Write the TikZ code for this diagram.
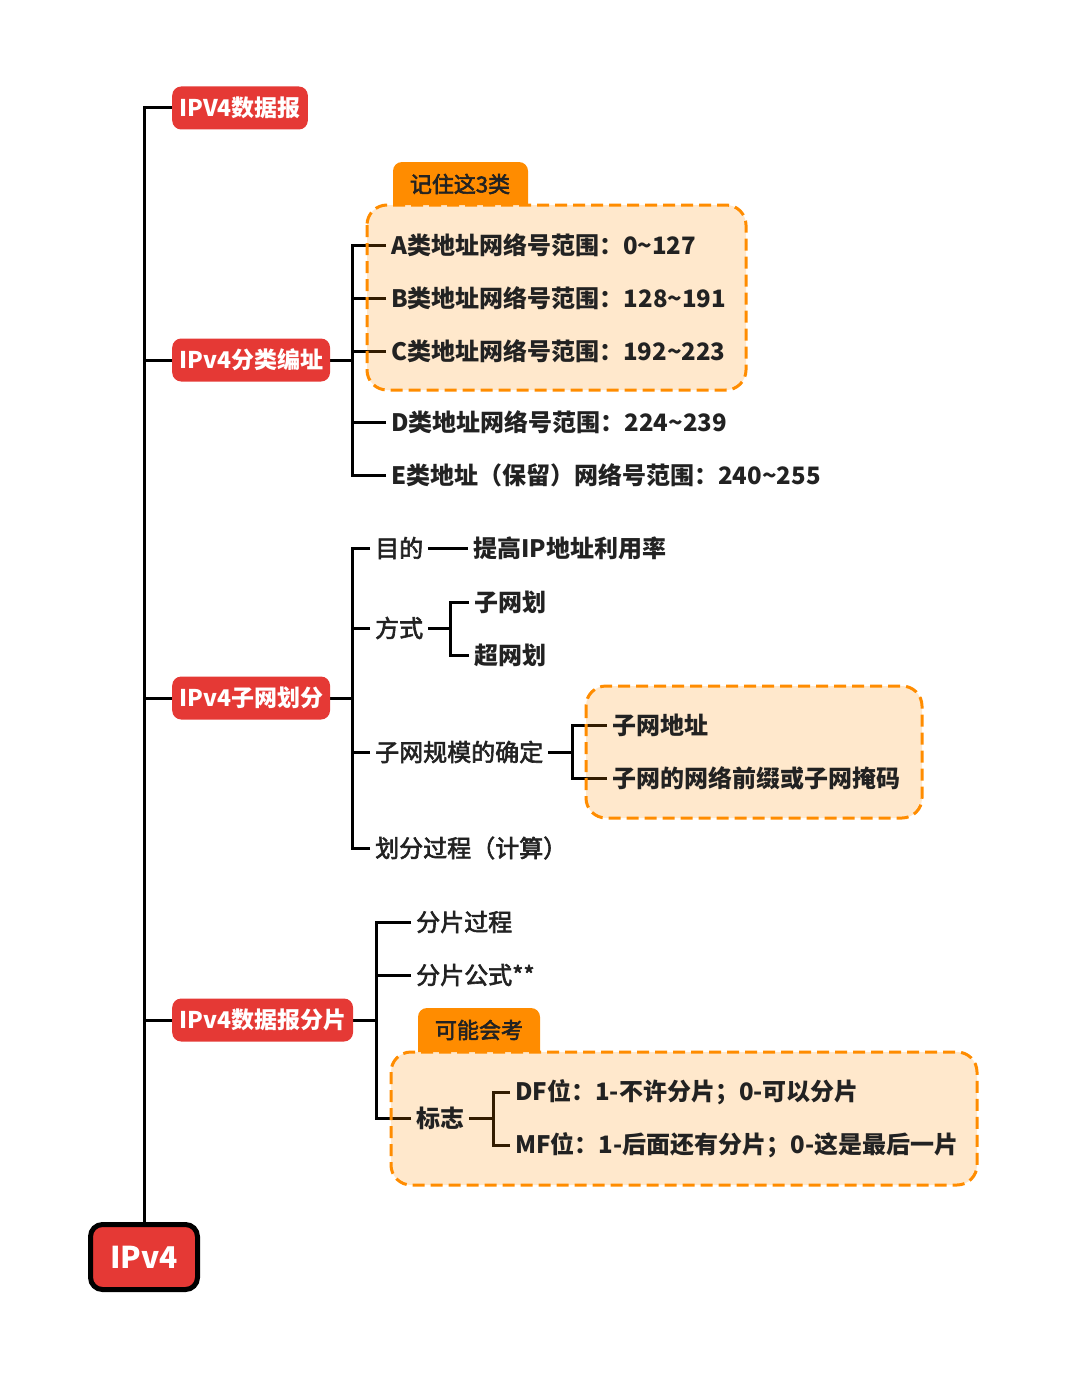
\documentclass[tikz,border=0pt]{standalone}
\usepackage{fontspec}
\setmainfont{Noto Sans CJK SC}
\newfontfamily\itemfont[FakeBold=2.5]{Noto Sans CJK SC}
\pgfdeclarelayer{lines}
\pgfdeclarelayer{boxes}
\pgfsetlayers{lines,boxes,main}
\definecolor{mapred}{HTML}{E53935}
\definecolor{maporange}{HTML}{FF8C00}
\definecolor{mapink}{HTML}{222222}

\tikzset{
  root/.style={rectangle, rounded corners=12pt, draw=black, line width=5pt, fill=mapred, text=white,
    font=\fontsize{30}{34}\selectfont\bfseries, minimum width=107pt, minimum height=65pt},
  topic/.style={rectangle, rounded corners=9pt, fill=mapred, text=white, anchor=west,
    font=\fontsize{23}{27}\selectfont\bfseries, minimum height=43pt, inner xsep=7pt},
  item/.style={anchor=west, inner xsep=5pt, inner ysep=3pt, text=mapink, font=\fontsize{24}{28}\itemfont},
  keyitem/.style={item, font=\fontsize{24}{28}\selectfont\bfseries},
  tabtext/.style={text=mapink, font=\fontsize{22}{26}\itemfont},
  link/.style={line width=3pt, draw=black},
  hintbox/.style={draw=maporange, line width=3pt, dash pattern=on 12pt off 6pt,
    fill=maporange, fill opacity=0.2, rounded corners=20pt},
}

\begin{document}
\begin{tikzpicture}[x=1pt,y=-1pt]
		\useasboundingbox (0,0) rectangle (1080,1378);

		% Root and topics
		\node[root] (ipv4) at (144,1257) {IPv4};
		\node[topic] (gram) at (172,108) {IPV4数据报};
		\node[topic] (classes) at (172,360) {IPv4分类编址};
		\node[topic] (subnets) at (172,698) {IPv4子网划分};
		\node[topic] (frags) at (172,1020) {IPv4数据报分片};

		% Classes
		\node[keyitem] (classA) at (386,245) {A类地址网络号范围：0\textasciitilde127};
		\node[keyitem] (classB) at (386,298) {B类地址网络号范围：128\textasciitilde191};
		\node[keyitem] (classC) at (386,351) {C类地址网络号范围：192\textasciitilde223};
		\node[keyitem] (classD) at (386,422) {D类地址网络号范围：224\textasciitilde239};
		\node[keyitem] (classE) at (386,475) {E类地址（保留）网络号范围：240\textasciitilde255};
		\node[tabtext] (tabA) at (460,184) {记住这3类};

		% Subnets
		\node[item] (aim) at (370,548) {目的};
		\node[keyitem] (aimtext) at (468,548) {提高IP地址利用率};
		\node[item] (way) at (370,628) {方式};
		\node[keyitem] (subdiv) at (469,602) {子网划};
		\node[keyitem] (superdiv) at (469,655) {超网划};
		\node[item] (scale) at (370,752) {子网规模的确定};
		\node[keyitem] (subaddr) at (607,725) {子网地址};
		\node[keyitem] (submask) at (607,778) {子网的网络前缀或子网掩码};
		\node[item] (calc) at (370,848) {划分过程（计算）};

		% Fragments
		\node[item] (fragproc) at (411,922) {分片过程};
		\node[item] (fragform) at (411,975) {分片公式**};
		\node[keyitem] (flags) at (411,1118) {标志};
		\node[keyitem] (flagDF) at (510,1092) {DF位：1-不许分片；0-可以分片};
		\node[keyitem] (flagMF) at (510,1145) {MF位：1-后面还有分片；0-这是最后一片};
		\node[tabtext] (tabB) at (479,1030) {可能会考};

		% Forks
		\coordinate (forkB) at (352,360);
		\coordinate (forkC) at (352,698);
		\coordinate (forkWay) at (450,628);
		\coordinate (forkScale) at (572,752);
		\coordinate (forkD) at (376,1020);
		\coordinate (forkFlags) at (493,1118);

		% Connectors
		\begin{pgfonlayer}{lines}
		\foreach \t in {gram,classes,subnets,frags}
			\draw[link] (\t.west) -| (ipv4.north);
		\draw[link] (classes.east) -- (forkB);
		\foreach \n in {classA,classB,classC,classD,classE}
			\draw[link] (\n.west) -| (forkB);
		\draw[link] (subnets.east) -- (forkC);
		\foreach \n in {aim,way,scale,calc}
			\draw[link] (\n.west) -| (forkC);
		\draw[link] (aim.east) -- (aimtext.west);
		\draw[link] (way.east) -- (forkWay);
		\draw[link] (subdiv.west) -| (forkWay);
		\draw[link] (superdiv.west) -| (forkWay);
		\draw[link] (scale.east) -- (forkScale);
		\draw[link] (subaddr.west) -| (forkScale);
		\draw[link] (submask.west) -| (forkScale);
		\draw[link] (frags.east) -- (forkD);
		\foreach \n in {fragproc,fragform,flags}
			\draw[link] (\n.west) -| (forkD);
		\draw[link] (flags.east) -- (forkFlags);
		\draw[link] (flagDF.west) -| (forkFlags);
		\draw[link] (flagMF.west) -| (forkFlags);
		\end{pgfonlayer}

		% Hint boxes
		\begin{pgfonlayer}{boxes}
		\fill[maporange] (393,205) [rounded corners=9pt] -- (393,162) -- (528,162) [sharp corners] -- (528,205) -- cycle;
		\fill[maporange] (418,1052) [rounded corners=9pt] -- (418,1008) -- (540,1008) [sharp corners] -- (540,1052) -- cycle;
		\draw[hintbox] (367,205) rectangle (746,390);
		\draw[hintbox] (586,686) rectangle (922,818);
		\draw[hintbox] (391,1052) rectangle (977,1185);
		\end{pgfonlayer}
\end{tikzpicture}
\end{document}
